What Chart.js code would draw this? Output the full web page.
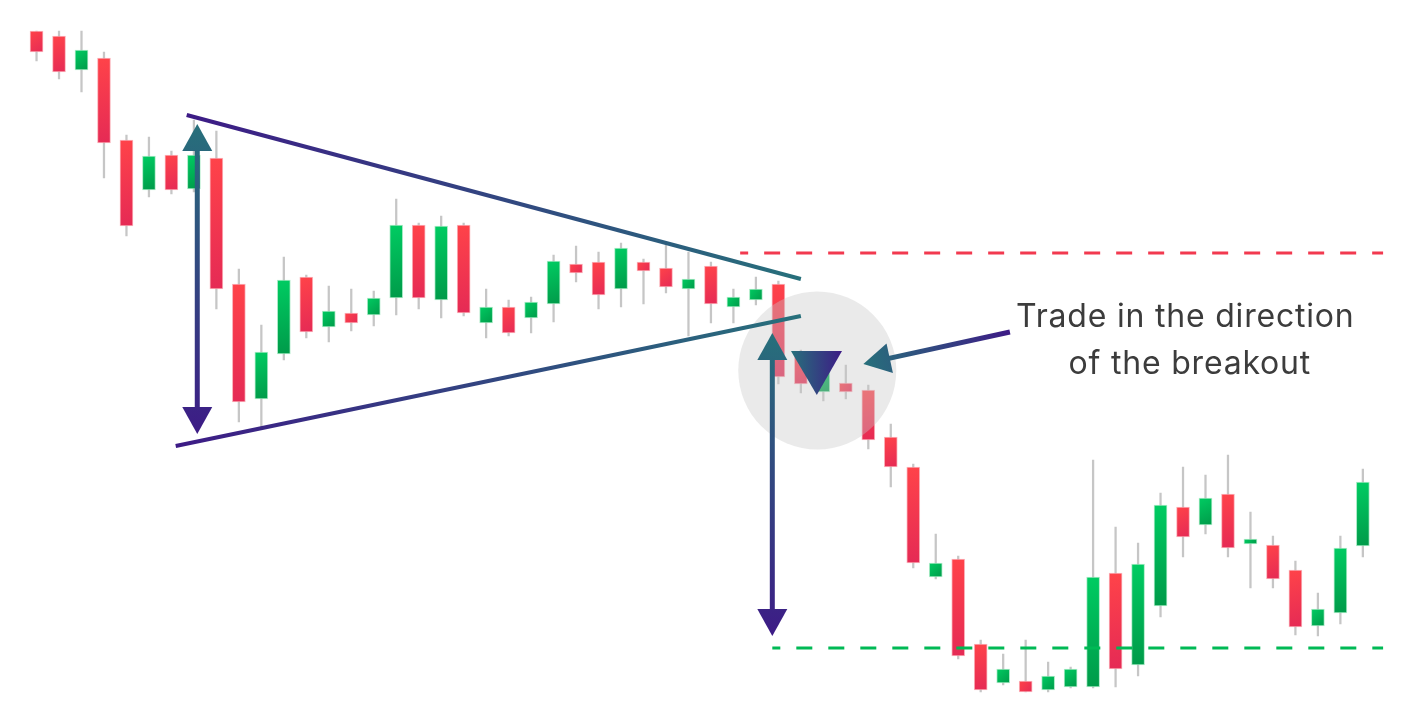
<!DOCTYPE html>
<html>
<head>
<meta charset="utf-8">
<script src="https://cdn.jsdelivr.net/npm/chart.js@4"></script>
<style>
  html, body { margin: 0; padding: 0; background: #ffffff; }
  #wrap { width: 1412px; height: 723px; position: relative; }
</style>
</head>
<body>
<div id="wrap"><canvas id="chart"></canvas></div>
<script>
// candle data (price units)
const opens  = [169.2,168.7,165.3,166.5,158.3,153.3,156.8,153.4,156.5,143.9,132.4,136.9,144.6,139.6,141.0,140.8,142.5,149.8,142.3,149.8,140.0,141.6,140.5,141.9,145.9,146.1,143.4,146.1,145.5,143.4,145.7,141.6,142.3,143.9,137.0,133.1,134.0,133.3,128.6,125.6,114.6,116.4,107.9,104.0,104.2,103.3,103.6,103.6,115.0,105.8,111.7,121.6,119.8,122.9,117.9,117.8,115.3,109.7,111.0,117.7];
const closes = [167.1,165.1,167.3,158.0,149.7,156.7,153.3,156.8,143.4,132.1,137.1,144.3,139.1,141.2,140.0,142.5,149.8,142.5,149.7,141.0,141.6,139.0,142.1,146.2,145.0,142.8,147.5,145.2,143.6,144.4,141.9,142.6,143.4,134.6,133.9,136.1,133.1,128.3,125.6,116.0,116.0,106.7,103.3,105.4,103.1,104.7,105.4,114.6,105.4,115.9,121.8,118.6,122.5,117.5,118.4,114.4,109.6,111.4,117.5,124.1];
const highs  = [169.2,169.2,169.2,167.1,158.8,158.6,157.2,160.3,159.2,145.4,139.8,146.6,144.8,143.7,143.4,143.2,152.4,150.0,150.7,150.0,143.4,142.3,142.6,146.8,147.7,147.1,148.0,146.4,147.8,147.1,146.1,143.4,144.6,144.2,137.3,136.5,135.8,133.8,129.9,125.9,118.9,116.7,108.3,106.9,108.3,106.1,105.6,126.3,119.6,118.0,123.0,125.6,124.8,126.8,121.1,118.7,116.2,113.0,118.7,125.4];
const lows   = [166.2,164.4,163.1,154.5,148.7,152.6,152.9,153.1,141.4,130.1,129.6,136.3,138.5,138.1,139.2,139.7,140.8,141.4,140.5,140.7,138.5,138.7,139.0,140.1,144.1,141.4,141.6,141.9,143.0,138.7,140.0,140.0,141.8,133.9,133.0,132.2,132.4,127.4,123.6,115.5,114.4,106.4,103.1,103.8,103.1,103.1,103.5,103.5,103.6,104.7,110.6,116.6,118.9,116.6,113.5,113.5,108.8,108.7,109.9,116.6];
const labels = opens.map((v, i) => 'C' + (i + 1));

// annotations: [candle index, price]
const upperTrend = [[6.68, 160.8], [34.0, 144.4]];
const lowerTrend = [[6.19, 127.7], [34.0, 140.7]];
const rangeArrows = [[7.15, 159.9, 128.9], [32.73, 139.0, 108.7]];
const resistanceLevel = [147.0, 31.3, 59.9];
const targetLevel = [107.5, 32.73, 59.9];
const breakoutZone = [34.73, 135.25];
const downMarker = [[33.56, 137.2], [35.83, 137.2], [34.71, 132.8]];
const pointer = [[43.3, 139.1], [36.78, 135.9]];
const noteLines = ['Trade in the direction', 'of the breakout'];
const notePos = [[51.1, 139.6], [51.3, 134.9]];

const PURPLE = '#3d1b86';
const TEAL = '#27707b';

function bodyGradient(ctx) {
  const chart = ctx.chart;
  const i = ctx.dataIndex;
  const xs = chart.scales.x, ys = chart.scales.y;
  const up = closes[i] >= opens[i];
  if (!xs || !ys || xs.width === undefined) return up ? '#00b856' : '#f03a4e';
  const x = xs.getPixelForValue(i);
  const t = ys.getPixelForValue(Math.max(opens[i], closes[i]));
  const b = ys.getPixelForValue(Math.min(opens[i], closes[i]));
  const g = chart.ctx.createLinearGradient(x - 7, t, x + 7, b);
  if (up) { g.addColorStop(0, '#00cc62'); g.addColorStop(1, '#009a49'); }
  else { g.addColorStop(0, '#ff4349'); g.addColorStop(1, '#e52a55'); }
  return g;
}

function arrowHead(c, tx, ty, dx, dy, len, half) {
  const bx = tx - dx * len, by = ty - dy * len;
  c.beginPath();
  c.moveTo(tx, ty);
  c.lineTo(bx - dy * half, by + dx * half);
  c.lineTo(bx + dy * half, by - dx * half);
  c.closePath();
  c.fill();
}

function drawArrow(c, x1, y1, x2, y2, col1, col2, width, headStart, headEnd) {
  const g = c.createLinearGradient(x1, y1, x2, y2);
  g.addColorStop(0, col1); g.addColorStop(1, col2);
  const L = Math.hypot(x2 - x1, y2 - y1);
  const dx = (x2 - x1) / L, dy = (y2 - y1) / L;
  const len = 27, half = 15;
  const sx = headStart ? x1 + dx * (len - 2) : x1, sy = headStart ? y1 + dy * (len - 2) : y1;
  const ex = headEnd ? x2 - dx * (len - 2) : x2, ey = headEnd ? y2 - dy * (len - 2) : y2;
  c.strokeStyle = g; c.fillStyle = g; c.lineWidth = width; c.lineCap = 'butt';
  c.beginPath(); c.moveTo(sx, sy); c.lineTo(ex, ey); c.stroke();
  if (headEnd) arrowHead(c, x2, y2, dx, dy, len, half);
  if (headStart) arrowHead(c, x1, y1, -dx, -dy, len, half);
}

const annotations = {
  id: 'annotations',
  afterDatasetsDraw(chart) {
    const c = chart.ctx;
    const xs = chart.scales.x, ys = chart.scales.y;
    const px = v => xs.getPixelForValue(v);
    const py = v => ys.getPixelForValue(v);
    c.save();

    // breakout zone
    c.fillStyle = 'rgba(200,200,200,0.38)';
    c.beginPath();
    c.arc(px(breakoutZone[0]), py(breakoutZone[1]), 79, 0, Math.PI * 2);
    c.fill();

    // dashed levels
    c.lineWidth = 3.2;
    c.setLineDash([16, 16]);
    c.lineDashOffset = 8;
    c.strokeStyle = '#f2394f';
    c.beginPath();
    c.moveTo(px(resistanceLevel[1]), py(resistanceLevel[0]));
    c.lineTo(px(resistanceLevel[2]), py(resistanceLevel[0]));
    c.stroke();
    c.strokeStyle = '#00b955';
    c.beginPath();
    c.moveTo(px(targetLevel[1]), py(targetLevel[0]));
    c.lineTo(px(targetLevel[2]), py(targetLevel[0]));
    c.stroke();
    c.setLineDash([]);

    // triangle lines
    [upperTrend, lowerTrend].forEach(line => {
      const x1 = px(line[0][0]), y1 = py(line[0][1]);
      const x2 = px(line[1][0]), y2 = py(line[1][1]);
      const g = c.createLinearGradient(x1, y1, x2, y2);
      g.addColorStop(0, PURPLE); g.addColorStop(1, TEAL);
      c.strokeStyle = g; c.lineWidth = 4;
      c.beginPath(); c.moveTo(x1, y1); c.lineTo(x2, y2); c.stroke();
    });

    // height arrows
    rangeArrows.forEach(a => {
      drawArrow(c, px(a[0]), py(a[1]), px(a[0]), py(a[2]), TEAL, PURPLE, 5, true, true);
    });

    // down marker
    const m = downMarker.map(p => [px(p[0]), py(p[1])]);
    const mg = c.createLinearGradient(m[0][0], m[0][1], m[1][0], m[1][1]);
    mg.addColorStop(0, TEAL); mg.addColorStop(1, PURPLE);
    c.fillStyle = mg;
    c.beginPath(); c.moveTo(m[0][0], m[0][1]); c.lineTo(m[1][0], m[1][1]); c.lineTo(m[2][0], m[2][1]); c.closePath(); c.fill();

    // pointer to the breakout
    drawArrow(c, px(pointer[0][0]), py(pointer[0][1]), px(pointer[1][0]), py(pointer[1][1]), PURPLE, TEAL, 5, false, true);

    // note
    c.fillStyle = '#3c3c3c';
    c.font = '400 32px Inter, "Noto Sans", sans-serif';
    c.letterSpacing = '0.8px';
    c.textAlign = 'center';
    c.textBaseline = 'alphabetic';
    noteLines.forEach((t, k) => c.fillText(t, px(notePos[k][0]), py(notePos[k][1])));
    c.restore();
  }
};

new Chart(document.getElementById('chart'), {
  type: 'bar',
  data: {
    labels: labels,
    datasets: [
      {
        label: 'Body',
        data: opens.map((o, i) => [o, closes[i]]),
        backgroundColor: bodyGradient,
        borderColor: ctx => closes[ctx.dataIndex] >= opens[ctx.dataIndex] ? 'rgba(150,230,185,0.8)' : 'rgba(250,160,170,0.8)',
        borderWidth: 1,
        borderSkipped: false,
        barThickness: 13,
        grouped: false,
        order: 0
      },
      {
        label: 'Wick',
        data: lows.map((l, i) => [l, highs[i]]),
        backgroundColor: '#c6c6c6',
        borderWidth: 0,
        barThickness: 1.6,
        grouped: false,
        order: 1
      }
    ]
  },
  options: {
    responsive: true,
    maintainAspectRatio: false,
    animation: false,
    layout: { padding: { left: 25.3, right: 37.9, top: 0, bottom: 0 } },
    plugins: { legend: { display: false }, tooltip: { enabled: false } },
    scales: {
      x: { display: false, offset: true },
      y: { display: false, min: 100, max: 172.3 }
    }
  },
  plugins: [annotations]
});
</script>
</body>
</html>
